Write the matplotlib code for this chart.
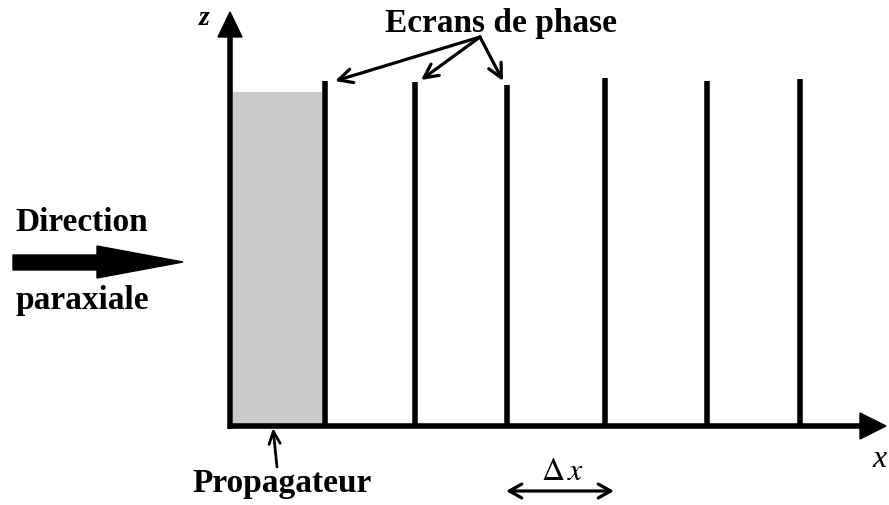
import matplotlib
matplotlib.use("Agg")
import matplotlib.pyplot as plt
from matplotlib.patches import Rectangle, Polygon

# Diagram data (pixel coordinates, y downward)
screen_x = [325, 415, 507, 605, 707, 800]
screen_top = [82, 83, 86, 79, 82, 80]
axis_origin = (230, 427)
propagator = (233, 93, 322, 427)
screen_labels_targets = [(335, 82), (421, 81), (503, 82)]
labels = {"screens": "Ecrans de phase", "dir1": "Direction", "dir2": "paraxiale",
          "prop": "Propagateur", "dx": r"$\Delta\,x$", "x": "x", "z": "z"}

plt.rcParams["mathtext.fontset"] = "stix"

fig = plt.figure(figsize=(8.89, 5.06), dpi=100)
ax = fig.add_axes([0, 0, 1, 1])
ax.set_xlim(0, 889)
ax.set_ylim(506, 0)
ax.axis("off")

serif = ["Liberation Serif", "DejaVu Serif"]
lw = 4.0
fs = 24

# propagator block
x0, y0, x1, y1 = propagator
ax.add_patch(Rectangle((x0, y0), x1 - x0, y1 - y0, facecolor="#cacaca", edgecolor="none", zorder=1))

# phase screens
for sx, st in zip(screen_x, screen_top):
    ax.plot([sx, sx], [st, axis_origin[1]], color="black", lw=lw, solid_capstyle="butt", zorder=3)

# axes
ox, oy = axis_origin
ax.plot([ox, ox], [oy + 2.5, 36], color="black", lw=lw, solid_capstyle="butt", zorder=3)
ax.add_patch(Polygon([[ox - 12, 38], [ox + 12, 38], [ox, 13]], closed=True, color="black", zorder=4))
ax.plot([ox - 2.5, 862], [oy, oy], color="black", lw=lw, solid_capstyle="butt", zorder=3)
ax.add_patch(Polygon([[860, oy - 13], [860, oy + 13], [886, oy]], closed=True, color="black", zorder=4))

ax.text(204, 18, labels["z"], fontsize=20, family=serif, style="italic", fontweight="bold", ha="center", va="center")
ax.text(880, 460, labels["x"], fontsize=23, family=serif, style="italic", ha="center", va="center")

# screen label and arrows
ax.text(501, 32, labels["screens"], fontsize=fs, family=serif, fontweight="bold", ha="center", va="baseline")
apex = (480, 38)
for tx, ty in screen_labels_targets:
    ax.annotate("", xy=(tx, ty), xytext=apex,
                arrowprops=dict(arrowstyle="->,head_length=1.0,head_width=0.5", lw=2.3, color="black",
                                shrinkA=0, shrinkB=0))

# direction arrow
ax.text(15, 231, labels["dir1"], fontsize=fs, family=serif, fontweight="bold", ha="left", va="baseline")
ax.text(15, 309, labels["dir2"], fontsize=fs, family=serif, fontweight="bold", ha="left", va="baseline")
ax.add_patch(Polygon([[13, 256], [97, 256], [97, 247], [183, 263], [97, 279], [97, 271], [13, 271]],
                     closed=True, color="black", zorder=4))

# propagator label
ax.text(282, 492, labels["prop"], fontsize=fs, family=serif, fontweight="bold", ha="center", va="baseline")
ax.annotate("", xy=(273, 429), xytext=(277, 468),
            arrowprops=dict(arrowstyle="->,head_length=0.9,head_width=0.4", lw=2.0, color="black",
                            shrinkA=0, shrinkB=0))

# delta x
ax.text(563, 480, labels["dx"], fontsize=23, ha="center", va="baseline")
ax.annotate("", xy=(506, 492), xytext=(614, 492),
            arrowprops=dict(arrowstyle="<->,head_length=0.9,head_width=0.5", lw=2.3, color="black",
                            shrinkA=0, shrinkB=0))

fig.savefig("out.png", dpi=100)
